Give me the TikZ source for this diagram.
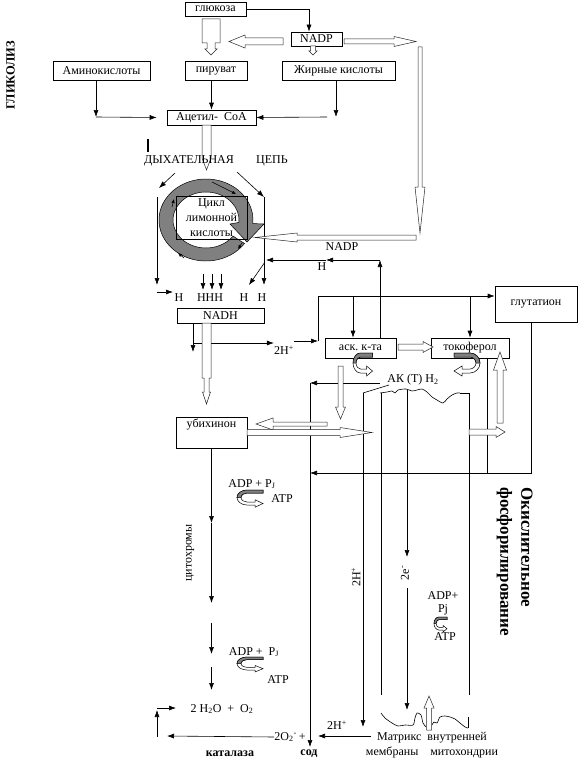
\documentclass[tikz,border=0pt]{standalone}
\usepackage{fontspec}
\setmainfont{Liberation Serif}
\usetikzlibrary{arrows.meta}
\usetikzlibrary{calc}

% hollow block arrow: start, angle, length, shaft half width, head half width, head length
\newcommand{\hollowarrow}[6]{%
  \draw[hollow, shift={#1}, rotate=#2] (0,-#4) -- ({#3-#6},-#4) -- ({#3-#6},-#5) -- (#3,0)
    -- ({#3-#6},#5) -- ({#3-#6},#4) -- (0,#4) -- cycle;}

\begin{document}
\begin{tikzpicture}[x=1pt, y=-1pt, line width=0.6pt,
    every node/.style={inner sep=0pt, font=\fontsize{12}{15}\selectfont},
    box/.style={draw},
    arr/.style={-{Latex[length=7pt,width=5pt]}},
    sarr/.style={-{Latex[length=4pt,width=3.5pt]}},
    hollow/.style={draw=black!85, fill=white, line width=0.5pt},
    bold/.style={font=\bfseries\fontsize{12}{15}\selectfont},
    turn/.pic={
      \filldraw[fill=white, draw=black, line width=0.5pt] (20,0) -- (4,0)
        .. controls (-1.5,0) and (-6,4.5) .. (-6,10) .. controls (-6,15.5) and (-1.5,20) .. (4,20)
        -- (12,20) -- (12,23) -- (20,18) -- (12,13) -- (12,16) -- (4,16)
        .. controls (1.8,16) and (-2,14) .. (-2,10) .. controls (-2,6) and (1.8,4) .. (4,4) -- (20,4) -- cycle;
      \filldraw[fill=black!50, draw=black, line width=0.5pt] (20,0) -- (4,0)
        .. controls (-1.5,0) and (-6,4.5) .. (-6,10) -- (-2,10)
        .. controls (-2,6) and (1.8,4) .. (4,4) -- (20,4) -- cycle;
    }]
\useasboundingbox (0,0) rectangle (584,768);

% glycolysis
\node[box, minimum width=61, minimum height=14] (gluc) at (215.5,9) {глюкоза};
\node[box, minimum width=51, minimum height=14] (nadp) at (316.5,39) {NADP};
\node[box, minimum width=97, minimum height=19] (amino) at (101.5,70.5) {Аминокислоты};
\node[box, minimum width=62, minimum height=19] (pyr) at (216,70.5) {пируват};
\node[box, minimum width=113, minimum height=19] (fatty) at (338.5,70.5) {Жирные кислоты};
\node[box, minimum width=89, minimum height=15] (acoa) at (211.5,117.5) {Ацетил-\ \ СоА};
\node[font=\bfseries\fontsize{12.5}{15}\selectfont, rotate=90] (glyc) at (10.5,75) {ГЛИКОЛИЗ};

\draw[arr] (gluc.east) -| ([xshift=-7.5pt]nadp.north);
\draw[hollow] (202,19) -- (220,19) -- (220,43) -- (215,43) -- (215,49) -- (217,49) -- (211,55)
  -- (205,49) -- (207,49) -- (207,43) -- (202,43) -- cycle;
\hollowarrow{(283,41.5)}{180}{54}{3.5}{6.5}{16}
\hollowarrow{(313,46)}{-90}{9}{2.5}{4}{4}
\hollowarrow{(344,41.5)}{0}{72}{2.5}{5}{22}
\hollowarrow{(420,47)}{-90}{186}{2}{5}{46}

\coordinate (aa) at (96,117);
\coordinate (fa) at (336,117);
\coordinate (fb) at (327,117);
\draw[arr] (amino.south -| aa) -- (aa);
\draw[arr] (aa) -- ([xshift=-10pt]acoa.west);
\draw[arr] (pyr.south -| acoa.north) -- (acoa.north);
\draw[arr] (fatty.south -| fa) -- (fa);
\draw[arr] (fb) -- (acoa.east);
\draw[line width=1.5pt] (148,139) -- (148,152);

% citric acid cycle
\hollowarrow{(206.5,125)}{-90}{45}{4.5}{4.5}{12}
\node (dyh) at (189,161) {ДЫХАТЕЛЬНАЯ};
\node (cep) at (272,161) {ЦЕПЬ};
\coordinate (lt) at (157,197);
\coordinate (lb) at (157,285);
\coordinate (rt) at (264,197);
\coordinate (rb) at (264,285);
\draw[arr] (175,173) -- (159,188);
\draw[arr] (lt) -- (lb);
\draw[arr] (237,172) -- (rt);
\draw[arr] (rt) -- (rb);

\hollowarrow{(416,237.5)}{180}{161}{2.5}{4.5}{42}
\node (nadp2) at (342,247) {NADP};

\filldraw[fill=black!50, draw=black, line width=0.5pt] ([shift={(35:47 and 41)}]206,220)
  arc[start angle=35, end angle=365, x radius=47, y radius=41] -- (264,224) -- (247,242) -- (230,224)
  -- ([shift={(365:33 and 28)}]206,220) arc[start angle=365, end angle=35, x radius=33, y radius=28] -- cycle;
\draw[sarr] (212,182) -- (236,194);
\draw[sarr] (172,207) -- (174,199);
\draw[sarr] (242,243) -- (238,249);
\draw[sarr] (184,258) -- (178,253);
\node[box, minimum width=71, minimum height=43, align=center] (cycle) at (211.5,217.5) {Цикл\\лимонной\\кислоты};

\coordinate (hv) at (380,260);
\coordinate (hm) at (326,260);
\node (hlab) at (322,267) {Н};
\draw[arr] (hv) -- (hm);
\draw[arr] (hm) -- (266,260);
\draw[arr] (265,262) -- (249,285);
\foreach \x in {203,212,221}
  \draw[arr] (\x,274) -- (\x,290);
\draw[arr] (157,292) -- (173,292);

\node (h1) at (179,298) {Н};
\node (h2) at (210,298) {ННН};
\node (h3) at (244,298) {Н};
\node (h4) at (262,298) {Н};
\node[box, minimum width=87, minimum height=15] (nadh) at (220.5,315.5) {NADH};

\coordinate (nd) at (193,343);
\node (twoh) at (284,350) {2H\textsuperscript{+}};
\draw[arr] (nadh.south -| nd) -- (193,352);
\draw[arr] (nd) -- (nd -| twoh.west);
\draw[hollow] (202,323) -- (211,323) -- (211,378) -- (209,378) -- (209,392) -- (210.5,392) -- (206.5,404)
  -- (202.5,392) -- (204,392) -- (204,378) -- (202,378) -- cycle;

% antioxidants
\node[box, minimum width=82, minimum height=36] (glut) at (536,304) {глутатион};
\node[box, minimum width=71, minimum height=20] (ask) at (360.5,348) {аск.\ к-та};
\node[box, minimum width=78, minimum height=20] (toc) at (470,348) {токоферол};
\coordinate (g0) at (318,341);
\coordinate (g1) at (318,296);
\draw[arr] (twoh.east |- g0) -- (g0);
\draw[arr] (g0) -- (g1) -- (g1 -| glut.west);
\draw[arr] ([xshift=-7.5pt]ask.north |- g1) -- ([xshift=-7.5pt]ask.north);
\draw[arr] (toc.north |- g1) -- (toc.north);
\draw[arr] (ask.north -| hv) -- (hv);
\hollowarrow{(398,347)}{0}{35}{3}{5.5}{10}
\pic[xscale=.75] at (357.5,353) {turn};
\pic[xscale=-1] at (474,353) {turn};

\node (akt) at (413,380) {АК (Т) Н\textsubscript{2}};
\coordinate (ak) at (380,383);
\coordinate (sd) at (310,383);
\coordinate (tr) at (487,473);
\coordinate (gr) at (531,473);
\draw[arr] (ak) -- (sd);
\draw[arr] (sd) -- (310,747);
\draw (tr |- toc.south) -- (tr);
\draw[arr] (gr |- glut.south) -- (gr) -- (gr -| sd);

% membrane
\draw (363,393) -- (389,385);
\draw plot[smooth] coordinates {(380,393) (387,392) (392,391) (395,393) (398,390) (406,389) (412,391)
  (417,390) (422,389) (427,392) (432,397) (437,400) (443,403) (447,399) (452,395) (457,393) (460,393)};
\draw (460,393) -- (469,393);
\draw[arr] (363,393) -- (363,727);
\draw (381,393) -- (381,695);
\draw[arr] (407,390) -- (407,557);
\draw[arr] (407,588) -- (407,710);
\draw (469,393) -- (469,695);
\node[rotate=90] (vh) at (356,577) {2H\textsuperscript{+}};
\node[rotate=90] (ve) at (405,573) {2e\textsuperscript{-}};

\hollowarrow{(340.5,366)}{-90}{53}{2.5}{5}{12}
\hollowarrow{(500,423)}{90}{71}{3}{6.5}{18}

% ubiquinone and cytochromes
\node[box, minimum width=71, minimum height=31, label={[anchor=north, yshift=-2pt]north:убихинон}] (ubi) at (211.5,432.5) {};
\hollowarrow{(327,424)}{180}{71}{2}{6}{17}
\hollowarrow{(247,432.5)}{0}{125}{3}{5}{32}
\hollowarrow{(469,432)}{0}{36}{3}{5.5}{9}

\coordinate (c1) at (211.5,523);
\draw[arr] (ubi.south) -- (c1);
\draw[arr] (c1) -- (211.5,603);
\draw[arr] (211.5,623) -- (211.5,654);
\draw[arr] (211.5,667) -- (211.5,690);
\node[rotate=90] (cyto) at (190,553) {цитохромы};
\node (adp1) at (252,484) {ADP + P\textsubscript{J}};
\pic[yscale=.75] at (243,490) {turn};
\node (atp1) at (282,499) {ATP};
\node (adp2) at (254,652) {ADP +\ \ P\textsubscript{J}};
\pic[yscale=.65] at (243,657) {turn};
\node (atp2) at (278,680) {ATP};

\node (adp3) at (443,596) {ADP+};
\node (pj3) at (443,610) {Pj};
\pic[xscale=.5, yscale=.65] at (437,617) {turn};
\node (atp3) at (445,637) {ATP};
\node[rotate=-90, anchor=north west, align=left, font=\bfseries\fontsize{17}{21}\selectfont] (oxph) at (533,487) {Окислительное\\фосфорилирование};

% bottom
\node (water) at (222,709) {2 H\textsubscript{2}O\ \ +\ \ O\textsubscript{2}};
\coordinate (wl) at (157,708);
\draw[arr] (157,737) -- (157,710);
\draw[arr] (wl) -- (176,708);
\node (o2) at (290,737) {2O\textsubscript{2}\textsuperscript{-}\,+};
\draw[arr] (o2.west) -- (167,736);
\node (h2b) at (337,725) {2H\textsuperscript{+}};
\draw[arr] (371,736) -- (318,736);
\node[bold] (katal) at (230,754) {каталаза};
\node[bold] (sod) at (309,754) {сод};

\draw plot[smooth] coordinates {(381,713) (385,718) (392,723) (398,726) (405,725) (413,725) (415,718)
  (417,713) (421,715) (423,723) (426,727)};
\draw plot[smooth] coordinates {(432,725) (434,722) (437,723) (440,717) (445,716) (450,717) (455,719)
  (460,723) (465,727) (468,728)};
\draw (468,728) -- (468,717);
\hollowarrow{(429,730)}{90}{34}{2.5}{5}{12}
\node[align=center] (matrix) at (432,745) {Матрикс\ \ внутренней\\мембраны\ \ \ \ митохондрии};
\end{tikzpicture}
\end{document}
